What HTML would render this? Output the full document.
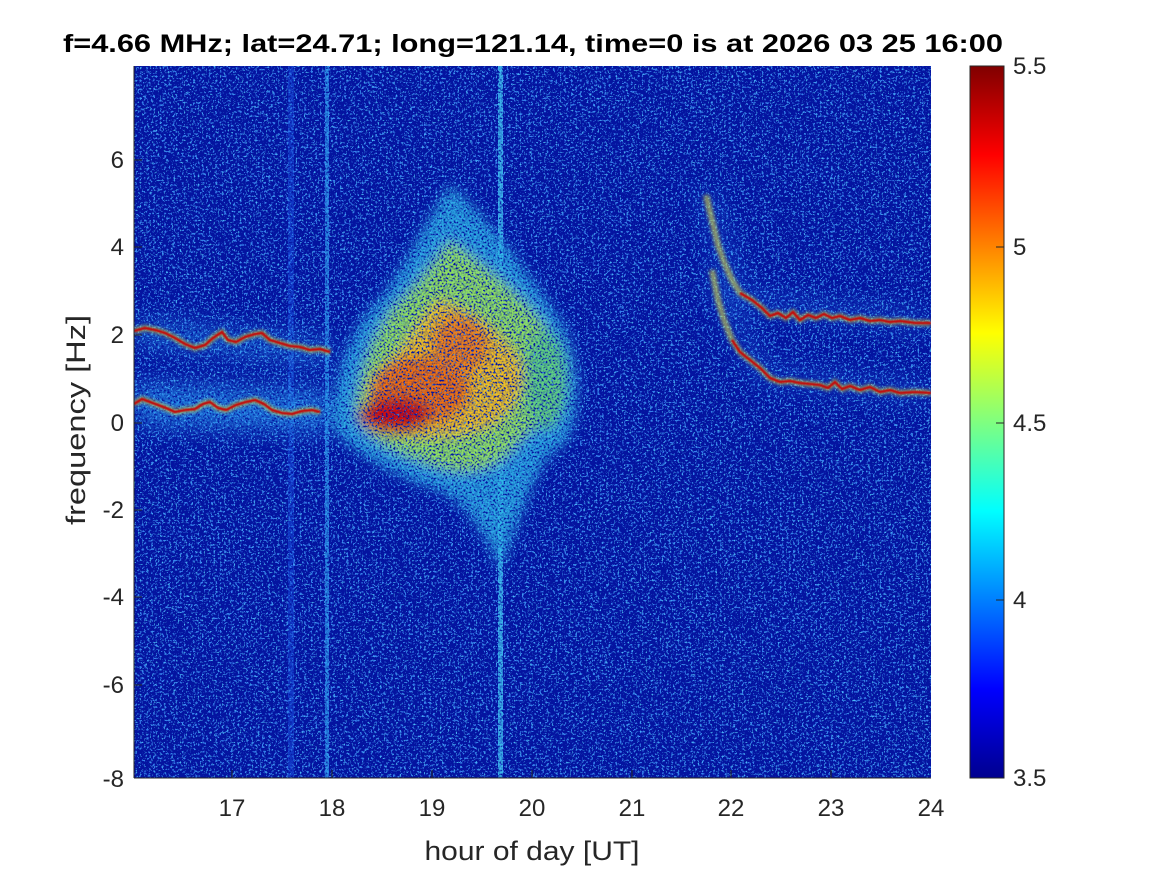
<!DOCTYPE html>
<html><head><meta charset="utf-8"><style>
html,body{margin:0;padding:0;background:#fff;width:1167px;height:875px;overflow:hidden}
text{font-family:"Liberation Sans",Arial,sans-serif;fill:#262626}
</style></head><body>
<svg width="1167" height="875" viewBox="0 0 1167 875" xmlns="http://www.w3.org/2000/svg">
<defs>
<filter id="noise" x="0" y="0" width="100%" height="100%">
<feTurbulence type="fractalNoise" baseFrequency="0.45" numOctaves="2" seed="3" result="t"/>
<feColorMatrix in="t" type="matrix" values="0 0 0 0 0.05  0 0 0 0 0.3  0 0 0 0 0.95  0 0 -12 0 4.9"/>
</filter>
<filter id="noise3" x="0" y="0" width="100%" height="100%">
<feTurbulence type="fractalNoise" baseFrequency="0.5" numOctaves="2" seed="21" result="t"/>
<feColorMatrix in="t" type="matrix" values="0 0 0 0 0.1  0 0 0 0 0.7  0 0 0 0 1  0 0 -16 0 5.4"/>
</filter>
<filter id="mk" x="0" y="0" width="100%" height="100%">
<feTurbulence type="fractalNoise" baseFrequency="0.5" numOctaves="2" seed="7" result="t"/>
<feColorMatrix in="t" type="matrix" values="4 0 0 0 -1.4  4 0 0 0 -1.4  4 0 0 0 -1.4  0 0 0 0 1"/>
</filter>
<mask id="grain" maskUnits="userSpaceOnUse" x="134" y="66" width="797" height="712">
<rect x="134" y="66" width="797" height="712" filter="url(#mk)"/>
</mask>
<filter id="blur8" filterUnits="userSpaceOnUse" x="0" y="0" width="1167" height="875"><feGaussianBlur stdDeviation="12"/></filter>
<filter id="blur5" filterUnits="userSpaceOnUse" x="0" y="0" width="1167" height="875"><feGaussianBlur stdDeviation="6"/></filter>
<filter id="blur3"><feGaussianBlur stdDeviation="1.8"/></filter>
<filter id="blur1"><feGaussianBlur stdDeviation="0.6"/></filter>
<linearGradient id="jet" x1="0" y1="1" x2="0" y2="0">
<stop offset="0" stop-color="#00008f"/><stop offset="0.125" stop-color="#0000ff"/>
<stop offset="0.375" stop-color="#00ffff"/><stop offset="0.625" stop-color="#ffff00"/>
<stop offset="0.875" stop-color="#ff0000"/><stop offset="1" stop-color="#800000"/>
</linearGradient>
<clipPath id="pc"><rect x="134" y="66" width="797" height="712"/></clipPath>
</defs>
<g clip-path="url(#pc)">
<rect x="134" y="66" width="797" height="712" fill="#0414a0"/>
<rect x="134" y="66" width="797" height="712" filter="url(#noise)" opacity="0.85"/>
<rect x="134" y="66" width="797" height="712" filter="url(#noise3)" opacity="0.7"/>
<g mask="url(#grain)">
<rect x="288" y="66" width="6" height="712" fill="#2060f0" opacity="0.5"/>
<rect x="325" y="66" width="4" height="712" fill="#30a0f0" opacity="0.8"/>
<rect x="498" y="66" width="5" height="712" fill="#40c0f0" opacity="0.9"/>
<path d="M134,332 L330,352" stroke="#2aa0f0" stroke-width="26" opacity="0.55" filter="url(#blur8)"/>
<path d="M134,404 L330,412" stroke="#2aa0f0" stroke-width="40" opacity="0.75" filter="url(#blur8)"/>
<path d="M705,190 L740,300 L931,323" fill="none" stroke="#2a90f0" stroke-width="16" opacity="0.4" filter="url(#blur8)"/>
<path d="M712,270 L760,375 L931,393" fill="none" stroke="#2a90f0" stroke-width="16" opacity="0.4" filter="url(#blur8)"/>
<g filter="url(#blur5)">
<path d="M450,185 C480,210 520,260 560,320 C585,360 580,420 565,445 C540,450 520,520 500,570 C480,520 455,490 420,485 C390,470 340,450 330,420 C335,380 350,330 370,310 C400,280 425,220 450,185 Z" fill="#30b8e8" opacity="0.85"/>
<path d="M450,240 C490,270 530,300 555,340 C565,380 550,420 520,440 C500,470 470,480 430,465 C400,455 360,440 355,410 C360,360 380,320 400,300 C420,280 435,260 450,240 Z" fill="#90e060"/>
<path d="M440,300 C470,310 500,330 520,360 C530,390 510,420 480,430 C450,440 410,440 370,430 C360,410 370,380 390,360 C410,340 425,310 440,300 Z" fill="#f0c020"/>
<ellipse cx="420" cy="390" rx="50" ry="34" fill="#f07010"/>
<ellipse cx="395" cy="415" rx="36" ry="18" fill="#d01010"/>
<ellipse cx="460" cy="345" rx="28" ry="30" fill="#f08015"/>
<ellipse cx="545" cy="380" rx="22" ry="50" fill="#60d080"/>
</g>
</g>
<g fill="none" stroke-linejoin="round">
<g stroke="#e0e040" stroke-width="6" opacity="0.6" filter="url(#blur3)">
<polyline points="134,331 145,328 155,330 165,333 175,338 185,344 195,348 205,345 213,338 222,332 228,340 236,342 245,337 255,334 262,333 270,340 280,343 290,346 300,347 310,350 320,349 330,352"/>
<polyline points="134,404 142,399 150,402 158,405 166,408 175,412 185,410 195,409 203,404 210,402 218,408 226,410 236,405 246,402 255,400 264,404 272,410 282,413 292,414 302,411 312,410 320,412"/>
<polyline points="706,195 712,220 718,245 724,262 732,280 740,293 752,300 762,308 770,316 778,313 786,318 793,312 800,320 808,315 816,318 824,314 832,318 840,316 850,320 860,318 870,321 880,320 890,322 900,321 915,323 931,323"/>
<polyline points="712,270 718,300 724,320 732,340 740,352 750,360 760,368 770,378 780,382 790,381 800,383 810,384 820,385 828,388 835,382 842,389 850,386 860,390 870,387 880,392 890,390 900,393 915,392 931,393"/>
</g>
<g stroke="#c01010" stroke-width="2.6" filter="url(#blur1)">
<polyline points="134,331 145,328 155,330 165,333 175,338 185,344 195,348 205,345 213,338 222,332 228,340 236,342 245,337 255,334 262,333 270,340 280,343 290,346 300,347 310,350 320,349 330,352"/>
<polyline points="134,404 142,399 150,402 158,405 166,408 175,412 185,410 195,409 203,404 210,402 218,408 226,410 236,405 246,402 255,400 264,404 272,410 282,413 292,414 302,411 312,410 320,412"/>
<polyline points="740,293 752,300 762,308 770,316 778,313 786,318 793,312 800,320 808,315 816,318 824,314 832,318 840,316 850,320 860,318 870,321 880,320 890,322 900,321 915,323 931,323"/>
<polyline points="732,340 740,352 750,360 760,368 770,378 780,382 790,381 800,383 810,384 820,385 828,388 835,382 842,389 850,386 860,390 870,387 880,392 890,390 900,393 915,392 931,393"/>
</g>
</g>
</g>
<g stroke="#262626" stroke-width="1" fill="none">
<line x1="134" y1="778" x2="931" y2="778"/>
<line x1="134" y1="66" x2="134" y2="778"/>
</g>
<g stroke="#262626" stroke-width="1">
<line x1="232" y1="778" x2="232" y2="770"/><line x1="332" y1="778" x2="332" y2="770"/>
<line x1="432" y1="778" x2="432" y2="770"/><line x1="532" y1="778" x2="532" y2="770"/>
<line x1="632" y1="778" x2="632" y2="770"/><line x1="731" y1="778" x2="731" y2="770"/>
<line x1="831" y1="778" x2="831" y2="770"/>
<line x1="134" y1="160" x2="142" y2="160"/><line x1="134" y1="247" x2="142" y2="247"/>
<line x1="134" y1="335" x2="142" y2="335"/><line x1="134" y1="423" x2="142" y2="423"/>
<line x1="134" y1="510" x2="142" y2="510"/><line x1="134" y1="597" x2="142" y2="597"/>
<line x1="134" y1="685" x2="142" y2="685"/>
</g>
<g font-size="24" text-anchor="middle">
<text x="232" y="816">17</text><text x="332" y="816">18</text><text x="432" y="816">19</text>
<text x="532" y="816">20</text><text x="632" y="816">21</text><text x="731" y="816">22</text>
<text x="831" y="816">23</text><text x="931" y="816">24</text>
</g>
<g font-size="24" text-anchor="end">
<text x="124" y="168">6</text><text x="124" y="255">4</text><text x="124" y="343">2</text>
<text x="124" y="431">0</text><text x="124" y="518">-2</text><text x="124" y="605">-4</text>
<text x="124" y="693">-6</text><text x="124" y="787">-8</text>
</g>
<text x="532" y="860" font-size="27" text-anchor="middle" textLength="215" lengthAdjust="spacingAndGlyphs">hour of day [UT]</text>
<text transform="translate(85,420) rotate(-90)" font-size="27" text-anchor="middle" textLength="210" lengthAdjust="spacingAndGlyphs">frequency [Hz]</text>
<text x="63" y="52" font-size="25" font-weight="bold" style="fill:#000" textLength="940" lengthAdjust="spacingAndGlyphs">f=4.66 MHz;  lat=24.71; long=121.14, time=0 is at 2026 03 25 16:00</text>
<rect x="970" y="66" width="34" height="712" fill="url(#jet)" stroke="#262626" stroke-width="1"/>
<g stroke="#262626"><line x1="996" y1="247" x2="1004" y2="247"/><line x1="996" y1="423" x2="1004" y2="423"/><line x1="996" y1="600" x2="1004" y2="600"/></g>
<g font-size="24">
<text x="1013" y="74">5.5</text><text x="1013" y="255">5</text><text x="1013" y="431">4.5</text>
<text x="1013" y="608">4</text><text x="1013" y="786">3.5</text>
</g>
</svg>
</body></html>
